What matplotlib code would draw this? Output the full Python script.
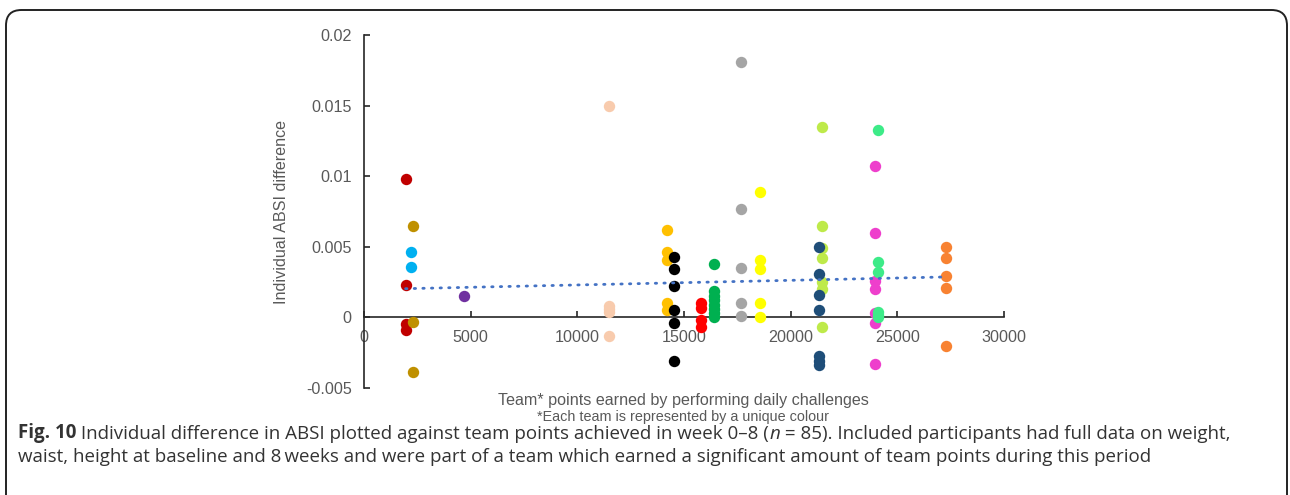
import matplotlib.pyplot as plt
from matplotlib.patches import FancyBboxPatch
import numpy as np

# team points (x) for each team, the team colour, and the members' ABSI differences
team_points = [1950, 2300, 2200, 4700, 11500, 14200, 14550, 15800,
               16400, 17650, 18550, 21450, 21350, 23950, 24100, 27300]
team_colours = ["#C00000", "#BF9000", "#00B0F0", "#7030A0", "#F8CBAD", "#FFC000",
                "#000000", "#FF0000", "#00B050", "#A5A5A5", "#FFFF00", "#BEEA4A",
                "#1F4E79", "#EE3FCC", "#3DEB88", "#F88232"]
absi_diff = [
    [0.0098, 0.0023, -0.0005, -0.0009],
    [0.0065, -0.0003, -0.0039],
    [0.0046, 0.0036],
    [0.0015],
    [0.0150, 0.0008, 0.0006, 0.0004, -0.0013],
    [0.0062, 0.0046, 0.0041, 0.0010, 0.0005],
    [0.0043, 0.0034, 0.0022, 0.0005, -0.0004, -0.0031],
    [0.0010, 0.0007, -0.0002, -0.0007],
    [0.0038, 0.0019, 0.0015, 0.0012, 0.0009, 0.0006, 0.0003, 0.0000],
    [0.0181, 0.0077, 0.0035, 0.0010, 0.0001],
    [0.0089, 0.0041, 0.0034, 0.0010, 0.0000],
    [0.0135, 0.0065, 0.0049, 0.0042, 0.0025, 0.0020, -0.0007],
    [0.0050, 0.0031, 0.0016, 0.0005, -0.0027, -0.0031, -0.0034],
    [0.0107, 0.0060, 0.0026, 0.0020, 0.0003, -0.0004, -0.0033],
    [0.0133, 0.0039, 0.0032, 0.0004, 0.0002, 0.0000],
    [0.0050, 0.0042, 0.0029, 0.0021, -0.0020],
]
# linear trendline as shown in the figure
trend_slope = 3.28e-8
trend_intercept = 0.00197

x_ticks = [0, 5000, 10000, 15000, 20000, 25000, 30000]
y_ticks = [-0.005, 0, 0.005, 0.01, 0.015, 0.02]
y_tick_labels = ["-0.005", "0", "0.005", "0.01", "0.015", "0.02"]

plt.rcParams["font.family"] = ["Liberation Sans", "DejaVu Sans"]
grey_text = "#595959"

fig = plt.figure(figsize=(12.9, 4.95), dpi=100)

# rounded frame around the whole figure
frame = FancyBboxPatch((6 / 1290, -0.1), 1281 / 1290, 1 - 10 / 495 + 0.1,
                       boxstyle="round,pad=0,rounding_size=0.012",
                       transform=fig.transFigure, facecolor="none",
                       edgecolor="#222222", linewidth=1.4, mutation_aspect=1290 / 495)
fig.patches.append(frame)

ax = fig.add_axes([364 / 1290, 1 - 388 / 495, 640 / 1290, 353 / 495])

for x, colour, ys in zip(team_points, team_colours, absi_diff):
    ax.plot([x] * len(ys), ys, "o", color=colour, markersize=8.2,
            markeredgewidth=0, zorder=3)

all_x = np.concatenate([[x] * len(ys) for x, ys in zip(team_points, absi_diff)])
trend_x = np.array([all_x.min(), all_x.max()])
ax.plot(trend_x, trend_slope * trend_x + trend_intercept, color="#4472C4",
        linewidth=2, linestyle=(0, (0.5, 2.6)), dash_capstyle="round", zorder=4)

ax.set_xlim(0, 30000)
ax.set_ylim(-0.005, 0.02)
ax.set_xticks(x_ticks)
ax.set_xticklabels([str(t) for t in x_ticks])
ax.set_yticks(y_ticks)
ax.set_yticklabels(y_tick_labels)

for side in ["top", "right"]:
    ax.spines[side].set_visible(False)
ax.spines["bottom"].set_position(("data", 0))
ax.spines["left"].set_color("#262626")
ax.spines["bottom"].set_color("#262626")
ax.spines["left"].set_linewidth(1.2)
ax.spines["bottom"].set_linewidth(1.2)
ax.tick_params(axis="both", direction="in", length=4, width=1.2, color="#262626",
               labelsize=11.6, labelcolor=grey_text)
ax.tick_params(axis="x", pad=9)
ax.tick_params(axis="y", pad=9)

fig.text(282 / 1290, 1 - 212 / 495, "Individual ABSI difference", rotation=90,
         ha="center", va="center", fontsize=11.6, color=grey_text)
fig.text(683 / 1290, 1 - 401 / 495, "Team* points earned by performing daily challenges",
         ha="center", va="center", fontsize=11.6, color=grey_text)
fig.text(683 / 1290, 1 - 417 / 495, "*Each team is represented by a unique colour",
         ha="center", va="center", fontsize=10.4, color=grey_text)

# caption, built from pieces so that bold and italic parts sit inline
cap_kw = dict(fontsize=13.5, color="#333333", family="Open Sans")
t = fig.text(18 / 1290, 1 - 438 / 495, "Fig. 10", fontweight="bold",
             va="baseline", **cap_kw)
pieces = [(" Individual difference in ABSI plotted against team points achieved in week 0\u20138 (", "normal"),
          ("n", "italic"),
          (" = 85). Included participants had full data on weight,", "normal")]
for text, style in pieces:
    t = ax.annotate(text, xy=(1, 0), xycoords=t, fontstyle=style, va="bottom",
                    annotation_clip=False, **cap_kw)
fig.text(18 / 1290, 1 - 462 / 495,
         "waist, height at baseline and 8\u2009weeks and were part of a team which earned "
         "a significant amount of team points during this period",
         va="baseline", **cap_kw)

fig.savefig("out.png", dpi=100)
